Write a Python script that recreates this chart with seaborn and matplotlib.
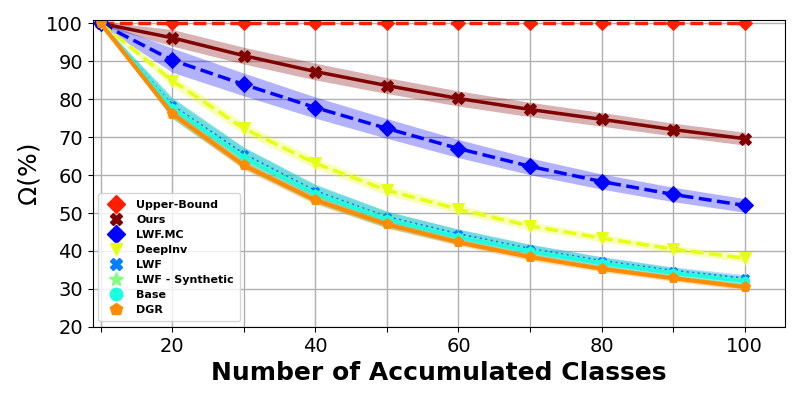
import numpy as np
import matplotlib
matplotlib.use("Agg")
import matplotlib.pyplot as plt
from matplotlib.lines import Line2D
import pandas as pd
import seaborn as sns

classes = [10, 20, 30, 40, 50, 60, 70, 80, 90, 100]

upper_bound = [100, 100, 100, 100, 100, 100, 100, 100, 100, 100]
ours = [100, 96.2, 91.5, 87.3, 83.6, 80.2, 77.3, 74.7, 72.0, 69.6]
lwf_mc = [100, 90.3, 83.9, 77.8, 72.3, 67.0, 62.3, 58.3, 54.9, 52.0]
deepinv = [100, 84.9, 72.3, 63.1, 56.0, 51.0, 46.6, 43.4, 40.5, 38.1]
lwf = [100, 78.4, 65.6, 55.8, 49.0, 44.5, 40.6, 37.4, 34.8, 32.8]
lwf_synth = [100, 78.0, 65.0, 55.4, 48.6, 44.0, 40.2, 37.0, 34.4, 32.3]
base = [100, 77.7, 64.6, 55.1, 48.3, 43.7, 39.9, 36.8, 34.2, 32.0]
dgr = [100, 76.2, 62.6, 53.4, 47.0, 42.3, 38.4, 35.3, 32.8, 30.5]

ours_std = [0.5, 2.2, 2.2, 2.2, 2.1, 2.0, 1.9, 1.8, 1.7, 1.7]
lwf_mc_std = [0.5, 3.2, 3.0, 2.8, 2.6, 2.4, 2.2, 2.0, 1.9, 1.8]
deepinv_std = [0.3, 1.5, 1.5, 1.4, 1.3, 1.2, 1.1, 1.0, 1.0, 1.0]
lwf_std = [0.3, 1.6, 1.6, 1.5, 1.4, 1.3, 1.2, 1.1, 1.0, 1.0]
base_std = [0.3, 2.8, 2.8, 2.5, 2.2, 2.0, 1.8, 1.6, 1.4, 1.3]
dgr_std = [0.3, 1.2, 1.2, 1.1, 1.0, 0.9, 0.9, 0.8, 0.8, 0.8]

names = ["Upper-Bound", "Ours", "LWF.MC", "DeepInv", "LWF", "LWF - Synthetic", "Base", "DGR"]
values = [upper_bound, ours, lwf_mc, deepinv, lwf, lwf_synth, base, dgr]
stds = [None, ours_std, lwf_mc_std, deepinv_std, lwf_std, None, base_std, dgr_std]

colors = ["#ff1e00", "#800000", "#0000ff", "#e6ff14", "#0080ff", "#80ff80", "#1affe0", "#ff8c00"]
band_colors = [None, "#800000", "#0000ff", "#e6ff14", "#0080ff", None, "#20d8c0", "#ff8c00"]
band_alpha = [0, 0.3, 0.3, 0.3, 0.25, 0, 0.5, 0.3]
markers = ["D", "X", "D", "v", "X", "*", "o", "p"]
styles = ["--", "-", "--", "--", ":", "--", "-", "-"]
widths = [2.5, 2.5, 2.5, 2.5, 1.5, 1.5, 2.5, 3]
msizes = [7.5, 8, 8, 8, 6, 6, 6, 8]
leg_sizes = [9, 9, 9, 9, 9, 10, 9, 9]

sns.set_style("ticks")
plt.rcParams.update({"text.color": "black", "axes.labelcolor": "black",
                     "xtick.color": "black", "ytick.color": "black"})

fig, ax = plt.subplots(figsize=(8, 4), dpi=100)

for i in range(len(names)):
    df = pd.DataFrame({"x": classes, "y": values[i]})
    if stds[i] is not None:
        lo = np.array(values[i]) - np.array(stds[i])
        hi = np.array(values[i]) + np.array(stds[i])
        ax.fill_between(classes, lo, hi, color=band_colors[i], alpha=band_alpha[i], linewidth=0)
    sns.lineplot(data=df, x="x", y="y", ax=ax, color=colors[i], linestyle=styles[i],
                 linewidth=widths[i], marker=markers[i], markersize=msizes[i],
                 markeredgecolor=colors[i], legend=False)

handles = [Line2D([], [], linestyle="none", marker=markers[i], color=colors[i],
                  markersize=leg_sizes[i], label=names[i]) for i in range(len(names))]
ax.legend(handles=handles, loc="lower left", prop={"weight": "bold", "size": 8},
          handletextpad=0.8, labelspacing=0.45, borderpad=0.6)

ax.set_xlim(8.9, 105.6)
ax.set_ylim(20, 101)
ax.set_xticks(classes)
ax.set_xticklabels(["" if c % 20 else str(c) for c in classes])
ax.set_yticks(range(20, 101, 10))
ax.tick_params(labelsize=14)
ax.grid(True, color="#b0b0b0", linewidth=1)
for s in ax.spines.values():
    s.set_visible(True)
    s.set_color("black")
ax.set_xlabel("Number of Accumulated Classes", fontsize=18, fontweight="bold")
ax.set_ylabel("Ω(%)", fontsize=18)

fig.subplots_adjust(left=0.116, right=0.981, top=0.951, bottom=0.183)
fig.savefig("out.png")
